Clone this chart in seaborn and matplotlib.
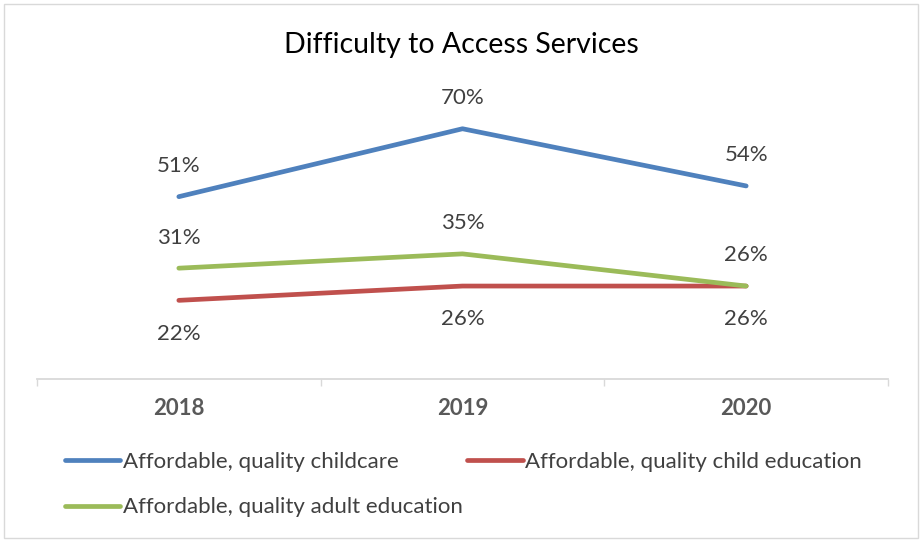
import pandas as pd
import matplotlib.pyplot as plt
import seaborn as sns
from matplotlib.lines import Line2D
from matplotlib.patches import Rectangle

# data
years = ['2018', '2019', '2020']
childcare = [0.51, 0.70, 0.54]
child_edu = [0.22, 0.26, 0.26]
adult_edu = [0.31, 0.35, 0.26]
series_names = ['Affordable, quality childcare',
                'Affordable, quality child education',
                'Affordable, quality adult education']
colors = ['#4F81BD', '#C0504D', '#9BBB59']

rows = []
for name, vals in zip(series_names, [childcare, child_edu, adult_edu]):
    for i, (yr, v) in enumerate(zip(years, vals)):
        rows.append({'pos': i, 'year': yr, 'value': v, 'series': name})
df = pd.DataFrame(rows)

sns.set_style('white')
plt.rcParams['font.family'] = ['Lato', 'DejaVu Sans']

fig = plt.figure(figsize=(9.22, 5.41), dpi=100)
ax = fig.add_axes([37 / 922, 1 - 379 / 541, (888 - 37) / 922, (379 - 93) / 541])

sns.lineplot(data=df, x='pos', y='value', hue='series', palette=colors,
             hue_order=series_names, linewidth=3.4, ax=ax, legend=False)
for ln in ax.lines:
    ln.set_solid_capstyle('round')

ax.set_xlim(-0.5, 2.5)
ax.set_ylim(0, 0.8)
ax.set_yticks([])
ax.set_xticks([0, 1, 2])
ax.set_xticklabels(years, fontsize=16, fontweight='bold', color='#595959')
ax.set_xticks([-0.5, 0.5, 1.5, 2.5], minor=True)
ax.tick_params(axis='x', which='major', length=0, pad=14)
ax.tick_params(axis='x', which='minor', length=5, width=1, color='#D9D9D9', direction='out', bottom=True)
ax.set_xlabel('')
ax.set_ylabel('')
for s in ['top', 'left', 'right']:
    ax.spines[s].set_visible(False)
ax.spines['bottom'].set_color('#D9D9D9')
ax.spines['bottom'].set_linewidth(1.3)

# data labels: childcare and adult above, child education below
offsets = {series_names[0]: 22, series_names[1]: -24, series_names[2]: 22}
for name, vals in zip(series_names, [childcare, child_edu, adult_edu]):
    for i, v in enumerate(vals):
        ax.annotate(f'{round(v * 100)}%', (i, v), xytext=(0, offsets[name]),
                    textcoords='offset points', ha='center', va='center',
                    fontsize=16, color='#404040')

fig.text(0.5, 1 - 45 / 541, 'Difficulty to Access Services', ha='center', va='center',
         fontsize=20.5, color='#000000')

handles = [Line2D([], [], color=c, lw=3.4, solid_capstyle='round') for c in colors]
order = [0, 2, 1]
fig.legend([handles[i] for i in order], [series_names[i] for i in order],
           loc='upper left', bbox_to_anchor=(56 / 922, 1 - 443 / 541), ncol=2,
           frameon=False, fontsize=16, handlelength=2.5, handletextpad=0.1,
           borderaxespad=0, columnspacing=0.2, labelspacing=1.15, labelcolor='#404040')

fig.add_artist(Rectangle((4 / 922, 3 / 541), 914 / 922, 534 / 541, transform=fig.transFigure,
                         fill=False, edgecolor='#D9D9D9', linewidth=1))

fig.savefig('out.png', dpi=100)
